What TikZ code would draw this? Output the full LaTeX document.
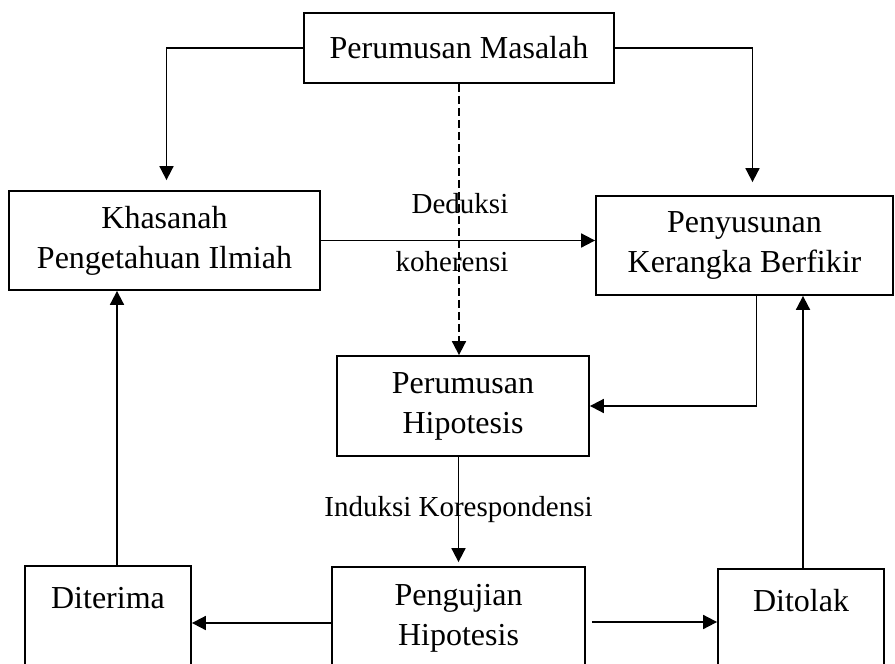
\documentclass[tikz,border=0pt]{standalone}
\usepackage{fontspec}
\setmainfont{Liberation Serif}
\usepackage{tikz}
\usetikzlibrary{arrows.meta}

\begin{document}
\begin{tikzpicture}[x=0.5pt,y=-0.5pt,line width=0.9pt,>={Triangle[length=7pt,width=7pt]},
    box/.style={shape=rectangle,draw=black,inner sep=0pt,align=center,font=\fontsize{16}{20}\selectfont},
    lbl/.style={inner sep=0pt,font=\fontsize{14.5}{17}\selectfont}]
    \clip (0,0) rectangle (895,664);
    \node[box,minimum width=155pt,minimum height=35pt] (masalah) at (459,48) {Perumusan Masalah};
    \node[box,minimum width=155.5pt,minimum height=49.5pt] (khasanah) at (164.5,240.5) {Khasanah\\Pengetahuan Ilmiah};
    \node[box,minimum width=148.5pt,minimum height=49.5pt] (penyusun) at (744.5,245.5) {Penyusunan\\Kerangka Berfikir};
    \node[box,minimum width=126pt,minimum height=50pt] (hipotesis) at (463,406) {Perumusan\\Hipotesis};
    \node[box,minimum width=83pt,minimum height=52pt] (diterima) at (108,618) {Diterima\\\phantom{X}};
    \node[box,minimum width=126.5pt,minimum height=51pt] (pengujian) at (458.5,618) {Pengujian\\Hipotesis};
    \node[box,minimum width=83pt,minimum height=51pt] (ditolak) at (801,620) {Ditolak\\\phantom{X}};

    \node[lbl] (deduksi) at (460,204) {Deduksi};
    \node[lbl] (koherensi) at (452,262) {koherensi};

    \draw[->,shorten >=5pt] (masalah.west) -| ([xshift=1pt]khasanah.north);
    \draw[->,shorten >=6.5pt] (masalah.east) -| ([xshift=4pt]penyusun.north);
    \draw[->,dash pattern=on 4pt off 2pt] (masalah.south) -- (masalah.south |- hipotesis.north);
    \draw[->] (khasanah.east) -- (khasanah.east -| penyusun.west);
    \draw[->] ([xshift=6pt]penyusun.south) |- (hipotesis.east);
    \draw[->,shorten >=2pt] (hipotesis.south -| pengujian.north) -- (pengujian.north)
        node[lbl,midway,yshift=1pt] {Induksi Korespondensi};
    \draw[->] ([yshift=-2.5pt]pengujian.west) -- ([yshift=-2.5pt]pengujian.west -| diterima.east);
    \draw[->,shorten <=3pt] ([yshift=-2pt]pengujian.east) -- ([yshift=-2pt]pengujian.east -| ditolak.west);
    \draw[->] ([xshift=4.5pt]diterima.north) -- ([xshift=4.5pt]diterima.north |- khasanah.south);
    \draw[->] ([xshift=1pt]ditolak.north) -- ([xshift=1pt]ditolak.north |- penyusun.south);
\end{tikzpicture}
\end{document}
